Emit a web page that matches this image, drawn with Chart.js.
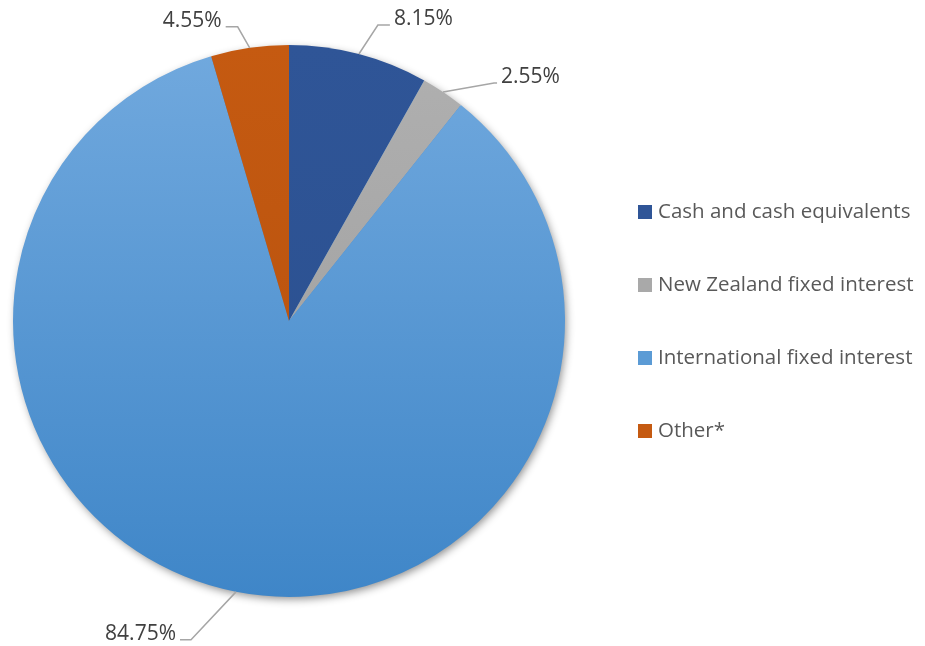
<!DOCTYPE html>
<html>
<head>
<meta charset="utf-8">
<script src="https://cdn.jsdelivr.net/npm/chart.js@4.4.1/dist/chart.umd.min.js"></script>
<style>
  html, body { margin: 0; padding: 0; background: #fff; }
  #wrap { width: 925px; height: 646px; }
</style>
</head>
<body>
<div id="wrap"><canvas id="pieChart" width="925" height="646"></canvas></div>
<script>
var categories = ['Cash and cash equivalents', 'New Zealand fixed interest', 'International fixed interest', 'Other*'];
var shares = [8.15, 2.55, 84.75, 4.55];
var valueLabels = ['8.15%', '2.55%', '84.75%', '4.55%'];

var sliceColors = ['#2F5597', '#A9A9A9', '#5B9BD5', '#C55A11'];

// leader line elbow offsets from the slice midpoint on the rim, and which side the label sits
var leaders = [
  { dx: 19, dy: -29, run: 12, side: 1 },
  { dx: 51, dy: -9, run: 3, side: 1 },
  { dx: -45, dy: 48, run: 11, side: -1 },
  { dx: -12, dy: -21, run: 12, side: -1 }
];

var ctx = document.getElementById('pieChart').getContext('2d');

function sliceFill(context) {
  var i = context.dataIndex;
  var chart = context.chart;
  if (!chart.chartArea) return sliceColors[i];
  var a = chart.chartArea;
  var g = chart.ctx.createLinearGradient(0, a.top, 0, a.bottom);
  if (i === 2) {
    g.addColorStop(0, '#71A9DE');
    g.addColorStop(1, '#3F86C8');
  } else if (i === 0) {
    g.addColorStop(0, '#2F5597');
    g.addColorStop(1, '#2A4F8E');
  } else if (i === 1) {
    g.addColorStop(0, '#B0B0B0');
    g.addColorStop(1, '#9A9A9A');
  } else {
    g.addColorStop(0, '#C55A11');
    g.addColorStop(1, '#B4500E');
  }
  return g;
}

var shadowPlugin = {
  id: 'pieShadow',
  beforeDatasetsDraw: function(chart) {
    var arc = chart.getDatasetMeta(0).data[0];
    if (!arc) return;
    var c = chart.ctx;
    c.save();
    c.shadowColor = 'rgba(0,0,0,0.45)';
    c.shadowBlur = 9;
    c.shadowOffsetX = 2;
    c.shadowOffsetY = 3;
    c.fillStyle = '#4A8ACB';
    c.beginPath();
    c.arc(arc.x, arc.y, arc.outerRadius - 1, 0, Math.PI * 2);
    c.fill();
    c.restore();
  }
};

var labelPlugin = {
  id: 'leaderLabels',
  afterDatasetsDraw: function(chart) {
    var c = chart.ctx;
    var meta = chart.getDatasetMeta(0);
    c.save();
    c.font = '21px "Open Sans", "Liberation Sans", sans-serif';
    c.fillStyle = '#404040';
    c.strokeStyle = '#A6A6A6';
    c.lineWidth = 1.5;
    c.textBaseline = 'middle';
    meta.data.forEach(function(arc, i) {
      var mid = (arc.startAngle + arc.endAngle) / 2;
      var px = arc.x + Math.cos(mid) * arc.outerRadius;
      var py = arc.y + Math.sin(mid) * arc.outerRadius;
      var L = leaders[i];
      var ex = px + L.dx, ey = py + L.dy;
      var hx = ex + L.side * L.run;
      c.beginPath();
      c.moveTo(px, py);
      c.lineTo(ex, ey);
      c.lineTo(hx, ey);
      c.stroke();
      c.textAlign = L.side > 0 ? 'left' : 'right';
      c.fillText(valueLabels[i], hx + L.side * 4, ey - 6);
    });
    c.restore();
  }
};

var legendPlugin = {
  id: 'sideLegend',
  afterDraw: function(chart) {
    var c = chart.ctx;
    var x = 638, y0 = 212, step = 73, box = 14;
    c.save();
    c.font = '20.5px "Open Sans", "Liberation Sans", sans-serif';
    c.textBaseline = 'middle';
    c.textAlign = 'left';
    categories.forEach(function(name, i) {
      var y = y0 + i * step;
      c.fillStyle = sliceColors[i];
      c.fillRect(x, y - box / 2, box, box);
      c.fillStyle = '#595959';
      c.fillText(name, x + 20, y);
    });
    c.restore();
  }
};

var pieChart = new Chart(ctx, {
  type: 'pie',
  data: {
    labels: categories,
    datasets: [{
      data: shares,
      backgroundColor: sliceFill,
      borderWidth: 0
    }]
  },
  options: {
    responsive: false,
    animation: false,
    layout: {
      padding: { left: 13, right: 360, top: 45, bottom: 49 }
    },
    plugins: {
      legend: { display: false },
      tooltip: { enabled: false }
    }
  },
  plugins: [shadowPlugin, labelPlugin, legendPlugin]
});
</script>
</body>
</html>
